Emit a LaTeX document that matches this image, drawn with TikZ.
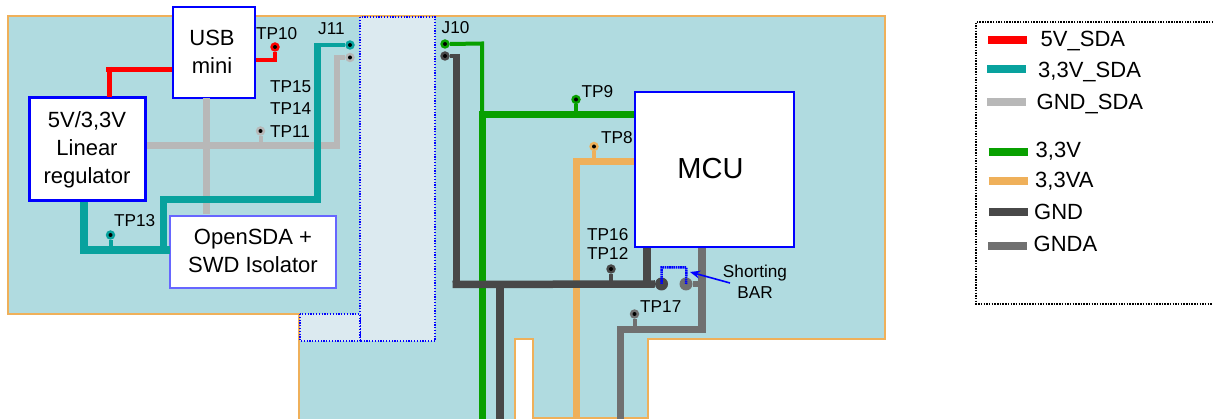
\documentclass[tikz,border=0pt]{standalone}
\usepackage{fontspec}
\setmainfont{Liberation Sans}
\usetikzlibrary{arrows.meta}
\definecolor{board}{HTML}{B0DBE0}
\definecolor{edgeor}{HTML}{EFB05A}
\definecolor{conn}{HTML}{DCEAF0}
\definecolor{cred}{HTML}{FF0000}
\definecolor{cteal}{HTML}{08A29E}
\definecolor{cgrey}{HTML}{B8B8B8}
\definecolor{cgreen}{HTML}{08A000}
\definecolor{cdark}{HTML}{484848}
\definecolor{cmid}{HTML}{707070}
\definecolor{cblue}{HTML}{0000FF}
\tikzset{
  blockbox/.style={draw=cblue,fill=white,inner sep=0pt,align=center,font=\fontsize{22}{28}\selectfont},
  lab/.style={anchor=base west,inner sep=0pt,font=\fontsize{17.2}{17.2}\selectfont},
  leglab/.style={anchor=base west,inner sep=0pt,font=\fontsize{22}{22}\selectfont},
  dotpt/.style={circle,fill=#1,minimum size=9.5pt,inner sep=0pt},
  padpt/.style={circle,fill=#1,minimum size=13pt,inner sep=0pt},
  trace/.style={line join=miter,line cap=butt},
  legline/.style={line width=8pt},
  conndot/.style={draw=cblue,line width=1.3pt,dash pattern=on 1.2pt off 1.6pt,fill=conn},
}
\newcommand{\tpoint}[3]{\node[dotpt=#3] (#1) at (#2) {}; \fill[black] (#1.center) circle (2pt);}
\newcommand{\legentry}[5]{%
  \coordinate (#1a) at (#2,#3); \coordinate (#1b) at (#2+39,#3);
  \draw[legline,#4] (#1a) -- (#1b);}
\begin{document}
\begin{tikzpicture}[x=1pt,y=-1pt]
\useasboundingbox (0,0) rectangle (1213,419);
% board
\draw[fill=board,draw=edgeor,line width=1.8pt]
  (8,16) -- (885,16) -- (885,339) -- (648,339) -- (648,418) -- (533,418) -- (533,339) -- (515,339) -- (515,418)
  -- (299,418) -- (299,314) -- (8,314) -- cycle;
\fill[white] (516,418) rectangle (532,419);
\fill[board] (300,416.8) rectangle (514.2,419);
\draw[draw=edgeor,line width=1.8pt] (299,314) -- (299,419);
% connector zones
\path[conndot] (360,17) rectangle (435,341);
\path[conndot] (300,314) rectangle (360,341);
% boxes
\node[blockbox,line width=2pt,minimum width=82pt,minimum height=91pt] (usb) at (213.5,52.5) {\raisebox{1.5pt}{\hspace*{-3pt}USB}\\\raisebox{1.5pt}{\hspace*{-3pt}mini}};
\node[blockbox,line width=3pt,minimum width=116pt,minimum height=103pt] (reg) at (87,149.5) {\raisebox{2pt}{5V/3,3V}\\\raisebox{2pt}{Linear}\\\raisebox{2pt}{regulator}};
\node[blockbox,draw=blue!60,line width=1.3pt,minimum width=166pt,minimum height=72pt] (sda) at (253,252) {\raisebox{3pt}{OpenSDA +}\\\raisebox{3pt}{SWD Isolator}};
\node[blockbox,line width=2pt,minimum width=159pt,minimum height=155pt,font=\fontsize{29}{29}\selectfont] (mcu) at (714.5,170) {\raisebox{3.5pt}{MCU}\hspace*{8pt}};
% test points
\tpoint{tpten}{275,47}{cred}
\tpoint{jea}{350,45}{cteal}
\tpoint{jeb}{350,57.5}{cgrey}
\tpoint{tpel}{260.5,131}{cgrey}
\tpoint{tpth}{110.5,235}{cteal}
\tpoint{jta}{445,44}{cgreen}
\tpoint{jtb}{445,56}{cdark}
\tpoint{tpn}{576,99.5}{cgreen}
\tpoint{tpe}{594,146.5}{edgeor}
\tpoint{tptw}{611,269}{cdark}
\tpoint{tpsv}{634.5,314}{cmid}
\node[padpt=cdark] (pada) at (661.5,284) {};
\node[padpt=cmid] (padb) at (686,284) {};
% junctions and free ends
\coordinate (greenend) at (482,419);
\coordinate (orend) at (576,419);
\coordinate (darkend) at (500,419);
\coordinate (midend) at (620,419);
% grey (GND_SDA)
\draw[trace,cgrey,line width=7.5pt] (206.5,98) -- (206.5,214);
\draw[trace,cgrey,line width=7pt] (147,146) -- (340,146);
\draw[trace,cgrey,line width=6pt] (337,149) -- (337,57.5);
\draw[trace,cgrey,line width=4.5pt] (334,57.5) -- (jeb.west);
\draw[trace,cgrey,line width=4pt] (260.5,146) -- (tpel.south);
% red
\draw[trace,cred,line width=5pt] (usb.west |- 0,69.5) -- (106,69.5);
\draw[trace,cred,line width=5pt] (109,67) -- (109,97);
\draw[trace,cred,line width=4pt] (usb.east |- 0,60.5) -- (275,60.5) -- (tpten.south);
% teal
\draw[trace,cteal,line width=8pt] (84,202) -- (84,250.5) -- (170,250.5);
\draw[trace,cteal,line width=4pt] (110.5,250) -- (tpth.south);
\draw[trace,cteal,line width=7pt] (163,250) -- (163,199.5) -- (317,199.5) -- (317,43);
\draw[trace,cteal,line width=4.5pt] (314,45) -- (jea.west);
% green
\draw[trace,cgreen,line width=4pt] (jta.east) -- (482,43.5) -- (482,115);
\draw[trace,cgreen,line width=7pt] (482,112) -- (greenend);
\draw[trace,cgreen,line width=7pt] (479,115) -- (mcu.west |- 0,115);
\draw[trace,cgreen,line width=4pt] (576,115) -- (tpn.south);
% orange
\draw[trace,edgeor,line width=7pt] (mcu.west |- 0,162) -- (576,162) -- (orend);
\draw[trace,edgeor,line width=4pt] (594,162) -- (tpe.south);
% dark GND
\draw[trace,cdark,line width=4.5pt] (jtb.east) -- (456,56);
\draw[trace,cdark,line width=7pt] (456,54) -- (456,284.5);
\draw[trace,cdark,line width=7.5pt] (452.5,284.5) -- (pada.west);
\draw[trace,cdark,line width=8pt] (mcu.south -| 647,0) -- (647,285);
\draw[trace,cdark,line width=8pt] (500,284) -- (darkend);
\draw[trace,cdark,line width=4pt] (611,284) -- (tptw.south);
% GNDA
\draw[trace,cmid,line width=8pt] (mcu.south -| 702,0) -- (702,333);
\draw[trace,cmid,line width=6pt] (padb.east) -- (702,284);
\draw[trace,cmid,line width=7pt] (702,330) -- (620,330) -- (midend);
\draw[trace,cmid,line width=4pt] (634.5,330) -- (tpsv.south);
% shorting bar
\draw[cblue,line width=2.5pt,dash pattern=on 1.6pt off 0.6pt] (pada.center) -- (661.5,267.5) -- (686.5,267.5) -- (padb.center);
\coordinate (arrowtail) at (730,283);
\coordinate (arrowhead) at (690,272);
\draw[-{Stealth[length=10pt,width=8pt]},cblue,line width=1.6pt] (arrowtail) -- (arrowhead);
% labels
\node[lab] (ltpten) at (256,40) {TP10};
\node[lab] (lje) at (318,34.5) {J11};
\node[lab] (ltpf) at (270,93) {TP15};
\node[lab] (ltpft) at (270,115) {TP14};
\node[lab] (ltpel) at (270,138) {TP11};
\node[lab] (ltpth) at (114,227) {TP13};
\node[lab] (ljt) at (441.5,34) {J10};
\node[lab] (ltpn) at (581.5,98) {TP9};
\node[lab] (ltpe) at (601,144) {TP8};
\node[lab] (ltps) at (587,241) {TP16};
\node[lab] (ltptw) at (587,260) {TP12};
\node[lab] (ltpsv) at (640,313) {TP17};
\node[lab,anchor=base] (lsh) at (755,278) {Shorting};
\node[lab,anchor=base] (lbar) at (755,299) {BAR};
% legend
\coordinate (lga) at (1213,22);
\coordinate (lgb) at (1213,304);
\draw[black,line width=1.7pt,dash pattern=on 1.5pt off 1.2pt] (lga) -- (976,22) -- (976,304) -- (lgb);
\legentry{la}{988}{40}{cred}{}
\legentry{lb}{987}{69.5}{cteal}{}
\legentry{lc}{987}{102}{cgrey}{}
\legentry{ld}{988.5}{152}{cgreen}{}
\legentry{le}{988.5}{181}{edgeor}{}
\legentry{lf}{989}{212.5}{cdark}{}
\legentry{lg}{988}{246}{cmid}{}
\node[leglab] (ta) at (1040.5,47) {5V\_SDA};
\node[leglab] (tb) at (1038,78) {3,3V\_SDA};
\node[leglab] (tc) at (1036.5,110) {GND\_SDA};
\node[leglab] (td) at (1035.5,158) {3,3V};
\node[leglab] (te) at (1035,188) {3,3VA};
\node[leglab] (tf) at (1034,220) {GND};
\node[leglab] (tg) at (1033.5,252) {GNDA};
\end{tikzpicture}
\end{document}
